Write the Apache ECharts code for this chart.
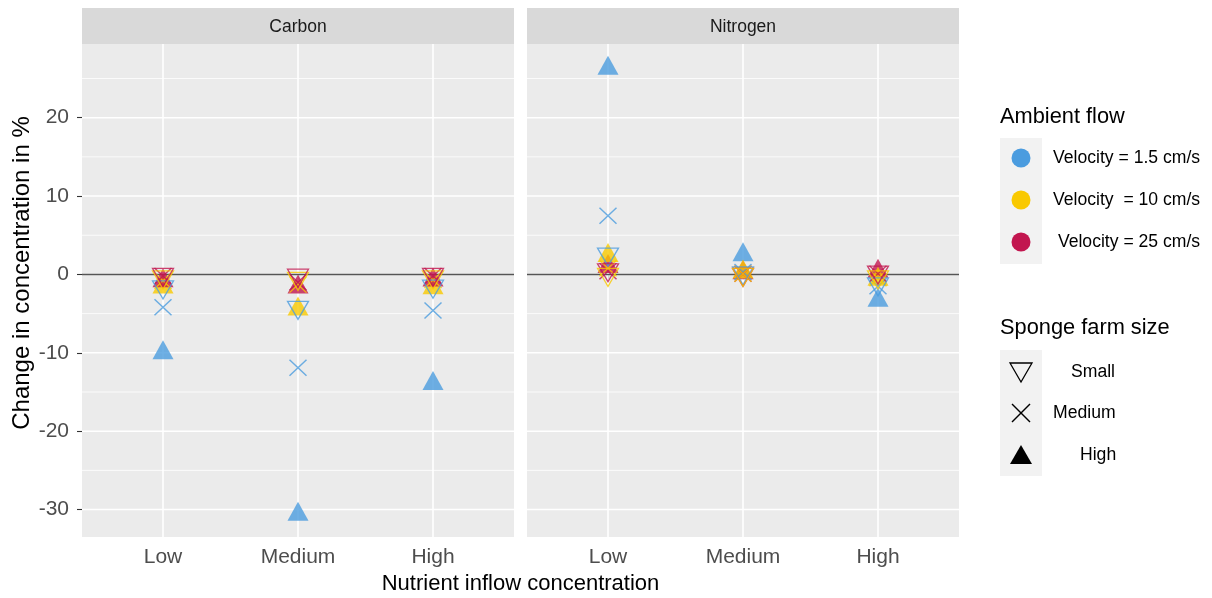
<!DOCTYPE html>
<html>
<head>
<meta charset="utf-8">
<script src="https://cdn.jsdelivr.net/npm/echarts@6/dist/echarts.min.js"></script>
<style>
html,body{margin:0;padding:0;background:#fff;}
#chart{width:1212px;height:598px;}
</style>
</head>
<body>
<div id="chart"></div>
<script>
// ---------- data ----------
const categories = ['Low', 'Medium', 'High'];
const panels = ['Carbon', 'Nitrogen'];
const yTicks = [-30, -20, -10, 0, 10, 20];
const yMinorTicks = [-25, -15, -5, 5, 15, 25];
const velocityLabels = ['Velocity = 1.5 cm/s', 'Velocity  = 10 cm/s', ' Velocity = 25 cm/s'];
const sizeLabels = ['Small', 'Medium', 'High'];

// values at Low / Medium / High nutrient inflow concentration
const carbon_v1_5_small  = [-1.6, -4.2, -1.5];
const carbon_v1_5_medium = [-4.2, -11.9, -4.6];
const carbon_v1_5_high   = [-10.0, -30.6, -13.9];
const carbon_v10_small   = [-0.3, -0.5, -0.3];
const carbon_v10_medium  = [-0.8, -1.3, -0.7];
const carbon_v10_high    = [-1.6, -4.4, -1.7];
const carbon_v25_small   = [0.0, -0.1, 0.0];
const carbon_v25_medium  = [-0.2, -1.0, -0.2];
const carbon_v25_high    = [-0.8, -1.6, -0.7];

const nitrogen_v1_5_small  = [2.6, 0.2, -1.2];
const nitrogen_v1_5_medium = [7.5, 0.3, -1.5];
const nitrogen_v1_5_high   = [26.3, 2.5, -3.3];
const nitrogen_v10_small   = [0.0, 0.0, -0.3];
const nitrogen_v10_medium  = [0.8, 0.1, -0.5];
const nitrogen_v10_high    = [2.4, 0.3, -0.6];
const nitrogen_v25_small   = [0.6, 0.0, 0.3];
const nitrogen_v25_medium  = [0.4, 0.1, 0.1];
const nitrogen_v25_high    = [1.0, 0.2, 0.4];

// ---------- styling ----------
const colors = ['#4B9CDF', '#F9C900', '#C2164F'];
const FONT = '"Liberation Sans", Arial, sans-serif';

const panelData = [
  { // Carbon
    Small:  [carbon_v1_5_small, carbon_v10_small, carbon_v25_small],
    Medium: [carbon_v1_5_medium, carbon_v10_medium, carbon_v25_medium],
    High:   [carbon_v1_5_high, carbon_v10_high, carbon_v25_high]
  },
  { // Nitrogen
    Small:  [nitrogen_v1_5_small, nitrogen_v10_small, nitrogen_v25_small],
    Medium: [nitrogen_v1_5_medium, nitrogen_v10_medium, nitrogen_v25_medium],
    High:   [nitrogen_v1_5_high, nitrogen_v10_high, nitrogen_v25_high]
  }
];
// drawing order of velocities inside each panel
const drawOrder = [[0, 1, 2], [0, 2, 1]];

const PANEL_W = 432, PANEL_TOP = 44, PANEL_H = 493;
const panelLeft = [82, 527];

function symbolFor(size, color) {
  if (size === 'Small') {
    return {
      symbol: 'path://M0,0L20,0L10,17Z',
      symbolSize: [21, 18],
      symbolOffset: [0, 3],
      itemStyle: { color: 'none', borderColor: color, borderWidth: 1.3 }
    };
  } else if (size === 'Medium') {
    return {
      symbol: 'path://M0,0L10,10M10,0L0,10',
      symbolSize: [17, 16],
      itemStyle: { color: 'none', borderColor: color, borderWidth: 1.4 }
    };
  }
  return {
    symbol: 'triangle',
    symbolSize: [21, 19],
    symbolOffset: [0, -3],
    itemStyle: { color: color, borderWidth: 0 }
  };
}

const grids = [], xAxes = [], yAxes = [], series = [];

panels.forEach((p, pi) => {
  grids.push({
    left: panelLeft[pi], top: PANEL_TOP, width: PANEL_W, height: PANEL_H,
    show: true, backgroundColor: '#EBEBEB', borderWidth: 0, containLabel: false
  });
  xAxes.push({
    type: 'value', gridIndex: pi, min: 0.4, max: 3.6,
    axisLine: { show: false },
    splitLine: { show: false },
    axisTick: { show: true, customValues: [1, 2, 3], length: 5, lineStyle: { color: '#333333', width: 1.1 } },
    axisLabel: {
      customValues: [1, 2, 3], margin: 10,
      formatter: v => categories[Math.round(v) - 1] || '',
      color: '#4D4D4D', fontSize: 21, fontFamily: FONT
    }
  });
  yAxes.push({
    type: 'value', gridIndex: pi, min: -33.5, max: 29.4,
    axisLine: { show: false },
    splitLine: { show: false },
    axisTick: { show: pi === 0, customValues: yTicks, length: 5, lineStyle: { color: '#333333', width: 1.1 } },
    axisLabel: {
      show: pi === 0, customValues: yTicks, margin: 13,
      color: '#4D4D4D', fontSize: 21, fontFamily: FONT
    }
  });

  // grid lines + zero reference line
  const gridRows = [];
  yMinorTicks.forEach(v => gridRows.push([2, v, 0]));
  yTicks.forEach(v => gridRows.push([2, v, 1]));
  [1, 2, 3].forEach(v => gridRows.push([v, 0, 2]));
  gridRows.push([2, 0, 3]);
  series.push({
    type: 'custom', xAxisIndex: pi, yAxisIndex: pi, silent: true, z: 1,
    clip: false, animation: false,
    data: gridRows,
    renderItem: function (params, api) {
      const cs = params.coordSys;
      const kind = api.value(2);
      if (kind === 2) {
        const pt = api.coord([api.value(0), 0]);
        return { type: 'line', shape: { x1: pt[0], y1: cs.y, x2: pt[0], y2: cs.y + cs.height },
                 style: { stroke: '#FFFFFF', lineWidth: 1.6 } };
      }
      const pt = api.coord([2, api.value(1)]);
      const style = kind === 0 ? { stroke: '#FFFFFF', lineWidth: 0.8 }
                  : kind === 1 ? { stroke: '#FFFFFF', lineWidth: 1.6 }
                  : { stroke: '#555555', lineWidth: 1.5 };
      return { type: 'line', shape: { x1: cs.x, y1: pt[1], x2: cs.x + cs.width, y2: pt[1] }, style: style };
    }
  });

  ['High', 'Medium', 'Small'].forEach(sz => {
    drawOrder[pi].forEach(vi => {
      const arr = panelData[pi][sz][vi];
      const s = symbolFor(sz, colors[vi]);
      series.push(Object.assign({
        type: 'scatter', name: velocityLabels[vi] + ' / ' + sz,
        xAxisIndex: pi, yAxisIndex: pi, z: 2, silent: true, animation: false,
        data: arr.map((y, i) => [i + 1, y])
      }, s));
    });
  });
});

// ---------- strips, titles, legend ----------
const graphic = [];
panels.forEach((p, pi) => {
  graphic.push({ type: 'rect', left: panelLeft[pi], top: 8, shape: { width: PANEL_W, height: 36 }, style: { fill: '#D9D9D9' }, silent: true });
  graphic.push({ type: 'text', x: panelLeft[pi] + PANEL_W / 2, y: 27, style: { text: p, fill: '#1A1A1A', font: '17.5px ' + FONT, textAlign: 'center', textVerticalAlign: 'middle' }, silent: true });
});
graphic.push({ type: 'text', x: 520.5, y: 584, style: { text: 'Nutrient inflow concentration', fill: '#000', font: '22px ' + FONT, textAlign: 'center', textVerticalAlign: 'middle' }, silent: true });
graphic.push({ type: 'text', x: 22, y: 273, rotation: Math.PI / 2, style: { text: 'Change in concentration in %', fill: '#000', font: '24px ' + FONT, textAlign: 'center', textVerticalAlign: 'middle' }, silent: true });

// legend: Ambient flow
graphic.push({ type: 'text', x: 1000, y: 117, style: { text: 'Ambient flow', fill: '#000', font: '21.8px ' + FONT, textAlign: 'left', textVerticalAlign: 'middle' }, silent: true });
graphic.push({ type: 'rect', shape: { x: 1000, y: 138, width: 42, height: 126 }, style: { fill: '#F2F2F2' }, silent: true });
const legY1 = [158, 200, 242];
const legX1 = [1053, 1053, 1053];
velocityLabels.forEach((lab, i) => {
  graphic.push({ type: 'circle', shape: { cx: 1021, cy: legY1[i], r: 9.5 }, style: { fill: colors[i] }, silent: true });
  graphic.push({ type: 'text', x: legX1[i], y: legY1[i], style: { text: lab, fill: '#000', font: '17.6px ' + FONT, textAlign: 'left', textVerticalAlign: 'middle', whiteSpace: 'pre' }, silent: true });
});

// legend: Sponge farm size
graphic.push({ type: 'text', x: 1000, y: 328, style: { text: 'Sponge farm size', fill: '#000', font: '21.8px ' + FONT, textAlign: 'left', textVerticalAlign: 'middle' }, silent: true });
graphic.push({ type: 'rect', shape: { x: 1000, y: 350, width: 42, height: 126 }, style: { fill: '#F2F2F2' }, silent: true });
const legY2 = [372, 413, 455];
const legX2 = [1071, 1053, 1080];
graphic.push({ type: 'polygon', shape: { points: [[1010, 363], [1032, 363], [1021, 382]] }, style: { fill: 'none', stroke: '#000', lineWidth: 1.3 }, silent: true });
graphic.push({ type: 'polyline', shape: { points: [[1012, 404], [1030, 422]] }, style: { stroke: '#000', lineWidth: 1.4 }, silent: true });
graphic.push({ type: 'polyline', shape: { points: [[1030, 404], [1012, 422]] }, style: { stroke: '#000', lineWidth: 1.4 }, silent: true });
graphic.push({ type: 'polygon', shape: { points: [[1021, 445], [1032, 464], [1010, 464]] }, style: { fill: '#000' }, silent: true });
sizeLabels.forEach((lab, i) => {
  graphic.push({ type: 'text', x: legX2[i], y: legY2[i], style: { text: lab, fill: '#000', font: '17.6px ' + FONT, textAlign: 'left', textVerticalAlign: 'middle' }, silent: true });
});

const chart = echarts.init(document.getElementById('chart'), null, { renderer: 'canvas' });
chart.setOption({
  backgroundColor: '#FFFFFF',
  animation: false,
  grid: grids,
  xAxis: xAxes,
  yAxis: yAxes,
  series: series,
  graphic: graphic
});
</script>
</body>
</html>
